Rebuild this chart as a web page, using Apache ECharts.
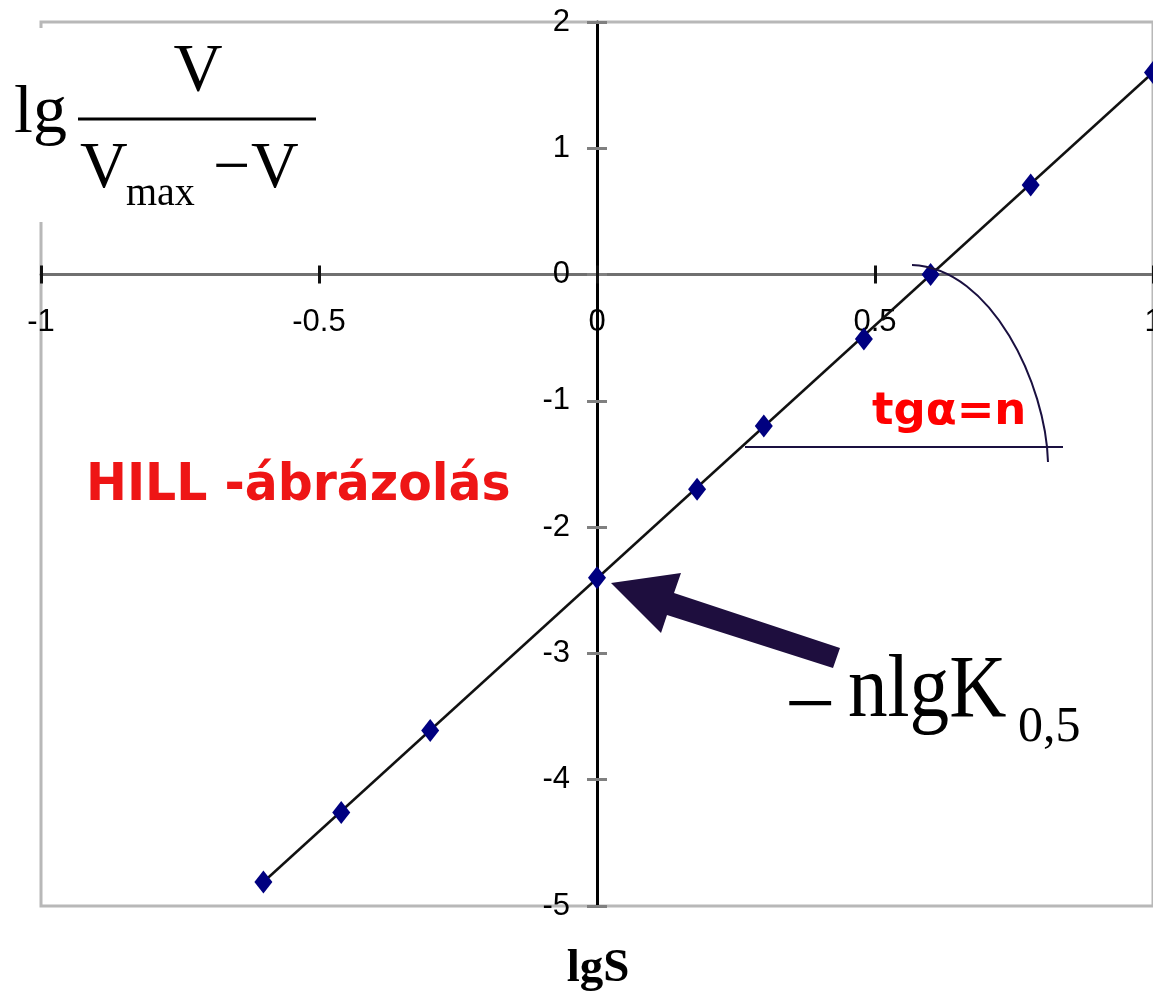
<!DOCTYPE html>
<html><head><meta charset="utf-8">
<script src="https://cdn.jsdelivr.net/npm/echarts@6/dist/echarts.min.js"></script>
<style>html,body{margin:0;padding:0;background:#fff}#c{width:1153px;height:998px}</style>
</head><body><div id="c"></div>
<script>
// lgS values and lg(V/(Vmax-V)) values
const lgS   = [-0.6, -0.46, -0.3, 0, 0.18, 0.3, 0.48, 0.6, 0.78, 1.0];
const lgHill = [-4.81, -4.26, -3.61, -2.40, -1.70, -1.20, -0.51, 0.0, 0.71, 1.60];
// fitted trend line end points
const trendX = [-0.6, 1.0];
const trendY = [-4.81, 1.60];
// axis ticks
const xTicks = [-1, -0.5, 0, 0.5, 1];
const yTicks = [-5, -4, -3, -2, -1, 0, 1, 2];

const W = 1153, H = 998;
const G = {left:41, right:0, top:22, bottom:92};
const gridW = W - G.left - G.right, gridH = H - G.top - G.bottom;
const xMin = xTicks[0], xMax = xTicks[xTicks.length-1];
const yMin = yTicks[0], yMax = yTicks[yTicks.length-1];
// offsets that put the axes on the zero lines (axes cross at the origin)
const xZeroOffset = -gridH * (0 - yMin) / (yMax - yMin);
const yZeroOffset = -gridW * (0 - xMin) / (xMax - xMin);

const chart = echarts.init(document.getElementById('c'), null, {renderer:'canvas'});
const serif = "'Liberation Serif','Times New Roman',serif";
const sans = "'DejaVu Sans',Verdana,sans-serif";
const lblFont = "'Liberation Sans',Arial,sans-serif";

chart.setOption({
  animation:false,
  backgroundColor:'#fff',
  grid:{left:G.left, right:G.right, top:G.top, bottom:G.bottom, containLabel:false, outerBoundsMode:'none',
    show:true, borderColor:'#b8b8b8', borderWidth:3, backgroundColor:'transparent'},
  xAxis:[
    {
      type:'value', min:xMin, max:xMax, interval:0.5, position:'bottom', offset:xZeroOffset,
      splitLine:{show:false},
      axisLine:{show:true, onZero:false, lineStyle:{color:'#707070', width:3}},
      axisTick:{show:true, length:9, lineStyle:{color:'#111', width:3}},
      axisLabel:{show:true, margin:32, color:'#000', fontSize:31, fontFamily:lblFont, showMinLabel:true, showMaxLabel:true,
        formatter:v=>String(v)}
    },
    {
      type:'value', min:xMin, max:xMax, interval:0.5, position:'bottom', offset:xZeroOffset,
      splitLine:{show:false},
      axisLine:{show:false, onZero:false},
      axisTick:{show:true, inside:true, length:9, lineStyle:{color:'#111', width:3}},
      axisLabel:{show:false}
    }
  ],
  yAxis:[
    {
      type:'value', min:yMin, max:yMax, interval:1, position:'left', offset:yZeroOffset,
      splitLine:{show:false},
      axisLine:{show:true, onZero:false, lineStyle:{color:'#000', width:3}},
      axisTick:{show:true, length:10, lineStyle:{color:'#808080', width:3}},
      axisLabel:{show:true, margin:27, color:'#000', fontSize:31, fontFamily:lblFont, showMinLabel:true, showMaxLabel:true}
    },
    {
      type:'value', min:yMin, max:yMax, interval:1, position:'left', offset:yZeroOffset,
      splitLine:{show:false},
      axisLine:{show:false, onZero:false},
      axisTick:{show:true, inside:true, length:10, lineStyle:{color:'#808080', width:3}},
      axisLabel:{show:false}
    }
  ],
  series:[
    {
      type:'line', xAxisIndex:0, yAxisIndex:0,
      data:trendX.map((x,i)=>[x, trendY[i]]),
      showSymbol:false, symbol:'none',
      lineStyle:{color:'#111', width:2.5},
      z:3, silent:true
    },
    {
      type:'scatter', xAxisIndex:0, yAxisIndex:0,
      data:lgS.map((x,i)=>[x, lgHill[i]]),
      symbol:'diamond', symbolSize:[18,23],
      itemStyle:{color:'#000080', opacity:1},
      z:4, silent:true
    }
  ],
  graphic:[
    // white backing behind the formula
    {type:'rect', z:100, shape:{x:30, y:28, width:300, height:194}, style:{fill:'#fff'}},
    {type:'text', z:101, style:{text:'lg', x:14, y:114, font:'68px '+serif, fill:'#000', align:'left', verticalAlign:'middle'}},
    {type:'text', z:101, style:{text:'V', x:198, y:72, font:'68px '+serif, fill:'#000', align:'center', verticalAlign:'middle'}},
    {type:'line', z:101, shape:{x1:78, y1:119, x2:316, y2:119}, style:{stroke:'#000', lineWidth:3}},
    {type:'text', z:101, style:{text:'V', x:80, y:170, font:'66px '+serif, fill:'#000', align:'left', verticalAlign:'middle'}},
    {type:'text', z:101, style:{text:'max', x:126, y:194, font:'40px '+serif, fill:'#000', align:'left', verticalAlign:'middle'}},
    {type:'text', z:101, style:{text:'\u2212', x:213, y:170, font:'66px '+serif, fill:'#000', align:'left', verticalAlign:'middle'}},
    {type:'text', z:101, style:{text:'V', x:251, y:170, font:'66px '+serif, fill:'#000', align:'left', verticalAlign:'middle'}},
    // HILL label
    {type:'text', z:101, x:86, y:486, scaleX:0.94, style:{text:'HILL -ábrázolás', x:0, y:0, font:'bold 52px '+sans, fill:'#ee1515', align:'left', verticalAlign:'middle'}},
    // slope annotation
    {type:'text', z:101, style:{text:'tgα=n', x:872, y:412, font:'bold 45px '+sans, fill:'#ff0000', align:'left', verticalAlign:'middle'}},
    {type:'bezierCurve', z:101, shape:{x1:912, y1:265, cpx1:992, cpy1:268, cpx2:1046, cpy2:385, x2:1048, y2:462}, style:{stroke:'#1a1040', lineWidth:2, fill:null}},
    {type:'line', z:101, shape:{x1:745, y1:447, x2:1063, y2:447}, style:{stroke:'#1a1040', lineWidth:2}},
    // arrow to intercept
    {type:'polygon', z:101, shape:{points:[[611,583],[681,573],[674,593],[840,648],[833,668],[667,615],[661,633]]}, style:{fill:'#1e0e3e'}},
    {type:'text', z:101, style:{text:'\u2212', x:785, y:709, font:'90px '+serif, fill:'#000', align:'left', verticalAlign:'middle'}},
    {type:'text', z:101, x:848, y:693, scaleX:0.9, style:{text:'nlgK', x:0, y:0, font:'88px '+serif, fill:'#000', align:'left', verticalAlign:'middle'}},
    {type:'text', z:101, style:{text:'0,5', x:1018, y:728, font:'50px '+serif, fill:'#000', align:'left', verticalAlign:'middle'}},
    // x axis title
    {type:'text', z:101, style:{text:'lgS', x:598, y:969, font:'bold 47px '+serif, fill:'#000', align:'center', verticalAlign:'middle'}}
  ]
});
</script></body></html>
